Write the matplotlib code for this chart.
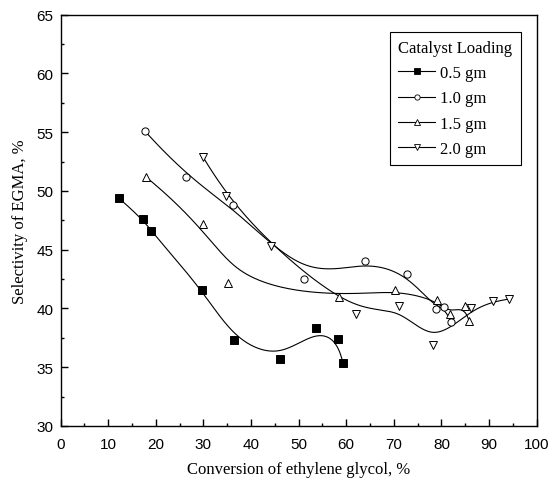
import numpy as np
import matplotlib
matplotlib.use("Agg")
import matplotlib.pyplot as plt
from matplotlib.lines import Line2D
from matplotlib.ticker import MultipleLocator

# conversion of ethylene glycol (%) / selectivity of EGMA (%)
x_05 = [12.2, 17.3, 18.9, 29.8, 36.5, 46.0, 53.7, 58.2, 59.3]
y_05 = [49.4, 47.6, 46.6, 41.6, 37.3, 35.7, 38.3, 37.4, 35.35]

x_10 = [17.7, 26.4, 36.2, 51.2, 63.9, 72.7, 78.8, 80.5, 82.1]
y_10 = [55.1, 51.2, 48.8, 42.5, 44.05, 42.95, 39.95, 40.15, 38.85]

x_15 = [17.9, 30.0, 35.2, 58.4, 70.2, 79.0, 81.8, 85.0, 85.8]
y_15 = [51.2, 47.2, 42.2, 41.0, 41.6, 40.7, 39.5, 40.2, 38.9]

x_20 = [29.9, 34.8, 44.1, 62.0, 71.1, 78.2, 86.3, 90.9, 94.2]
y_20 = [52.9, 49.6, 45.3, 39.55, 40.2, 36.9, 40.0, 40.6, 40.8]

labels = ["0.5 gm", "1.0 gm", "1.5 gm", "2.0 gm"]
markers = ["s", "o", "^", "v"]

SERIF = "Liberation Serif"
SANS = "Liberation Sans"


def bspline(xs, ys, n=400, k=3):
    """clamped uniform b-spline using the data points as control points"""
    P = np.column_stack([xs, ys])
    m = len(P)
    knots = np.concatenate([np.zeros(k), np.arange(m - k + 1), np.full(k, m - k)]).astype(float)
    t = np.linspace(0, m - k, n)
    t[-1] -= 1e-9
    B = np.zeros((n, len(knots) - 1))
    for i in range(len(knots) - 1):
        B[:, i] = (knots[i] <= t) & (t < knots[i + 1])
    for d in range(1, k + 1):
        Bn = np.zeros((n, len(knots) - 1 - d))
        for i in range(len(knots) - 1 - d):
            a = knots[i + d] - knots[i]
            b = knots[i + d + 1] - knots[i + 1]
            term = np.zeros(n)
            if a > 0:
                term += (t - knots[i]) / a * B[:, i]
            if b > 0:
                term += (knots[i + d + 1] - t) / b * B[:, i + 1]
            Bn[:, i] = term
        B = Bn
    C = B @ P
    return C[:, 0], C[:, 1]


fig = plt.figure(figsize=(5.51, 4.85), dpi=100)
ax = fig.add_axes([0.110, 0.1196, 0.864, 0.848])

series = [(x_05, y_05), (x_10, y_10), (x_15, y_15), (x_20, y_20)]
handles = []
for (xs, ys), mk, lab in zip(series, markers, labels):
    cx, cy = bspline(xs, ys)
    ax.plot(cx, cy, color="black", lw=0.8, zorder=2)
    face = "black" if mk == "s" else "white"
    ax.plot(xs, ys, linestyle="none", marker=mk, ms=5.2, mfc=face, mec="black", mew=0.7, zorder=3)
    handles.append(Line2D([], [], color="black", lw=0.8, marker=mk, ms=3.8, mfc=face, mec="black", mew=0.6, label=lab))

ax.set_xlim(0, 100)
ax.set_ylim(30, 65)
ax.xaxis.set_major_locator(MultipleLocator(10))
ax.xaxis.set_minor_locator(MultipleLocator(5))
ax.yaxis.set_major_locator(MultipleLocator(5))
ax.yaxis.set_minor_locator(MultipleLocator(2.5))
ax.tick_params(which="both", direction="in", top=False, right=False, width=1.0)
ax.tick_params(which="major", length=5)
ax.tick_params(which="minor", length=2.5)
ax.tick_params(axis="x", pad=8)
ax.tick_params(axis="y", pad=5)
for lab in ax.get_xticklabels() + ax.get_yticklabels():
    lab.set_fontfamily(SANS)
    lab.set_fontsize(11)
for sp in ax.spines.values():
    sp.set_linewidth(1.0)

ax.set_xlabel("Conversion of ethylene glycol, %", fontfamily=SERIF, fontsize=12, labelpad=7)
ax.set_ylabel("Selectivity of EGMA, %", fontfamily=SERIF, fontsize=12, labelpad=6)

leg = ax.legend(handles=handles, title="Catalyst Loading", loc="upper right",
                bbox_to_anchor=(0.9664, 0.9587), borderaxespad=0, fancybox=False,
                edgecolor="black", framealpha=1, handlelength=2.2, handletextpad=0.3,
                labelspacing=0.55, borderpad=0.5, prop={"family": SERIF, "size": 12})
leg.get_title().set_fontfamily(SERIF)
leg.get_title().set_fontsize(12)
leg._legend_box.align = "left"
leg.get_frame().set_linewidth(0.8)

fig.savefig("out.png", dpi=100)
